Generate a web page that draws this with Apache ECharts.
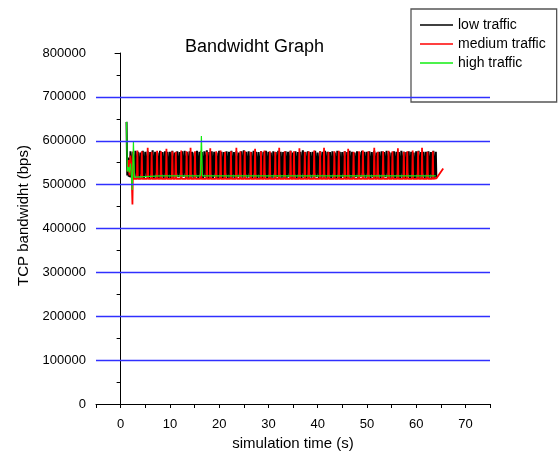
<!DOCTYPE html>
<html>
<head>
<meta charset="utf-8">
<script src="https://cdn.jsdelivr.net/npm/echarts@6/dist/echarts.min.js"></script>
<style>
html,body{margin:0;padding:0;background:#fff;}
#chart{width:559px;height:457px;}
</style>
</head>
<body>
<div id="chart"></div>
<script>
var chartTitle = 'Bandwidht Graph';
var xAxisName = 'simulation time (s)';
var yAxisName = 'TCP bandwidht (bps)';
var seriesNames = ['low traffic', 'medium traffic', 'high traffic'];
var gridLineValues = [100000, 200000, 300000, 400000, 500000, 600000, 700000];

var lowTraffic = [
[1.2,643000],[1.35,521000],[1.5,562000],[1.65,518000],[1.8,560000],[1.9,517000],
[2,576000],[2.25,515000],[2.5,574000],[2.75,517000],[3,577000],[3.25,514000],[3.5,575000],[3.75,516000],
[4,573000],[4.25,516000],[4.5,577000],[4.75,515000],[5,575000],[5.25,518000],[5.5,576000],[5.75,514000],
[6,574000],[6.25,517000],[6.5,578000],[6.75,515000],[7,575000],[7.25,516000],[7.5,573000],[7.75,514000],
[8,577000],[8.25,516000],[8.5,574000],[8.75,515000],[9,576000],[9.25,517000],[9.5,575000],[9.75,513000],
[10,575000],[10.25,515000],[10.5,577000],[10.75,516000],[11,573000],[11.25,514000],[11.5,576000],[11.75,517000],
[12,574000],[12.25,515000],[12.5,576000],[12.75,518000],[13,577000],[13.25,515000],[13.5,574000],[13.75,516000],
[14,576000],[14.25,514000],[14.5,575000],[14.75,516000],[15,573000],[15.25,517000],[15.5,577000],[15.75,515000],
[16,575000],[16.25,516000],[16.5,574000],[16.75,514000],[17,576000],[17.25,517000],[17.5,578000],[17.75,515000],
[18,574000],[18.25,516000],[18.5,576000],[18.75,514000],[19,575000],[19.25,518000],[19.5,573000],[19.75,515000],
[20,577000],[20.25,516000],[20.5,575000],[20.75,514000],[21,574000],[21.25,517000],[21.5,576000],[21.75,515000],
[22,575000],[22.25,513000],[22.5,577000],[22.75,516000],[23,574000],[23.25,515000],[23.5,576000],[23.75,517000],
[24,573000],[24.25,515000],[24.5,576000],[24.75,516000],[25,578000],[25.25,514000],[25.5,575000],[25.75,516000],
[26,576000],[26.25,517000],[26.5,574000],[26.75,515000],[27,577000],[27.25,516000],[27.5,575000],[27.75,514000],
[28,574000],[28.25,516000],[28.5,576000],[28.75,515000],[29,575000],[29.25,518000],[29.5,577000],[29.75,515000],
[30,575000],[30.25,514000],[30.5,573000],[30.75,516000],[31,576000],[31.25,515000],[31.5,574000],[31.75,517000],
[32,577000],[32.25,515000],[32.5,575000],[32.75,516000],[33,574000],[33.25,514000],[33.5,576000],[33.75,516000],
[34,575000],[34.25,517000],[34.5,577000],[34.75,515000],[35,573000],[35.25,516000],[35.5,576000],[35.75,514000],
[36,574000],[36.25,516000],[36.5,575000],[36.75,515000],[37,578000],[37.25,517000],[37.5,574000],[37.75,515000],
[38,576000],[38.25,514000],[38.5,574000],[38.75,516000],[39,575000],[39.25,515000],[39.5,577000],[39.75,517000],
[40,573000],[40.25,515000],[40.5,576000],[40.75,516000],[41,575000],[41.25,514000],[41.5,577000],[41.75,516000],
[42,575000],[42.25,517000],[42.5,574000],[42.75,515000],[43,576000],[43.25,516000],[43.5,573000],[43.75,514000],
[44,577000],[44.25,516000],[44.5,575000],[44.75,515000],[45,574000],[45.25,517000],[45.5,576000],[45.75,515000],
[46,574000],[46.25,514000],[46.5,577000],[46.75,516000],[47,575000],[47.25,515000],[47.5,573000],[47.75,517000],
[48,576000],[48.25,515000],[48.5,574000],[48.75,518000],[49,577000],[49.25,515000],[49.5,575000],[49.75,516000],
[50,575000],[50.25,516000],[50.5,576000],[50.75,514000],[51,574000],[51.25,517000],[51.5,577000],[51.75,515000],
[52,573000],[52.25,516000],[52.5,575000],[52.75,515000],[53,576000],[53.25,514000],[53.5,574000],[53.75,517000],
[54,577000],[54.25,515000],[54.5,575000],[54.75,516000],[55,573000],[55.25,517000],[55.5,576000],[55.75,514000],
[56,575000],[56.25,516000],[56.5,574000],[56.75,515000],[57,577000],[57.25,516000],[57.5,575000],[57.75,513000],
[58,574000],[58.25,517000],[58.5,576000],[58.75,515000],[59,575000],[59.25,516000],[59.5,573000],[59.75,514000],
[60,576000],[60.25,515000],[60.5,577000],[60.75,516000],[61,574000],[61.25,517000],[61.5,575000],[61.75,515000],
[62,575000],[62.25,514000],[62.5,576000],[62.75,516000],[63,574000],[63.25,515000],[63.5,577000],[63.75,516000],
[64,575000],[64.1,516000]
];

var mediumTraffic = [
[1.4,530000],[1.6,556000],[1.8,521000],[2.0,566000],[2.2,540000],[2.4,455000],[2.55,576000],[2.7,513000],
[3.3,513000],[3.4,578000],[3.5,513000],[4.2,513000],[4.3,576000],[4.4,513000],
[5.4,513000],[5.5,584000],[5.6,513000],[6.2,513000],[6.3,575000],[6.4,513000],
[7.3,513000],[7.4,577000],[7.5,513000],[8.1,513000],[8.2,576000],[8.3,513000],
[9.2,513000],[9.3,582000],[9.4,513000],[10.4,513000],[10.5,576000],[10.6,513000],
[11.1,513000],[11.2,575000],[11.3,513000],[12.2,513000],[12.3,578000],[12.4,513000],
[13.3,513000],[13.4,576000],[13.5,513000],[14.1,513000],[14.2,584000],[14.3,513000],
[15.0,513000],[15.1,576000],[15.2,513000],[16.2,513000],[16.3,577000],[16.4,513000],
[17.4,513000],[17.5,575000],[17.6,513000],[18.1,513000],[18.2,583000],[18.3,513000],
[19.3,513000],[19.4,576000],[19.5,513000],[20.2,513000],[20.3,578000],[20.4,513000],
[21.1,513000],[21.2,575000],[21.3,513000],[22.3,513000],[22.4,576000],[22.5,513000],
[23.4,513000],[23.5,584000],[23.6,513000],[24.2,513000],[24.3,576000],[24.4,513000],
[25.1,513000],[25.2,577000],[25.3,513000],[26.3,513000],[26.4,575000],[26.5,513000],
[27.2,513000],[27.3,582000],[27.4,513000],[28.4,513000],[28.5,576000],[28.6,513000],
[29.1,513000],[29.2,578000],[29.3,513000],[30.2,513000],[30.3,576000],[30.4,513000],
[31.3,513000],[31.4,575000],[31.5,513000],[32.1,513000],[32.2,584000],[32.3,513000],
[33.2,513000],[33.3,576000],[33.4,513000],[34.4,513000],[34.5,577000],[34.6,513000],
[35.1,513000],[35.2,576000],[35.3,513000],[36.2,513000],[36.3,583000],[36.4,513000],
[37.3,513000],[37.4,575000],[37.5,513000],[38.1,513000],[38.2,576000],[38.3,513000],
[39.2,513000],[39.3,578000],[39.4,513000],[40.4,513000],[40.5,576000],[40.6,513000],
[41.2,513000],[41.3,584000],[41.4,513000],[42.1,513000],[42.2,575000],[42.3,513000],
[43.3,513000],[43.4,576000],[43.5,513000],[44.2,513000],[44.3,577000],[44.4,513000],
[45.4,513000],[45.5,576000],[45.6,513000],[46.1,513000],[46.2,582000],[46.3,513000],
[47.2,513000],[47.3,575000],[47.4,513000],[48.3,513000],[48.4,576000],[48.5,513000],
[49.1,513000],[49.2,578000],[49.3,513000],[50.2,513000],[50.3,576000],[50.4,513000],
[51.4,513000],[51.5,584000],[51.6,513000],[52.1,513000],[52.2,575000],[52.3,513000],
[53.2,513000],[53.3,576000],[53.4,513000],[54.3,513000],[54.4,577000],[54.5,513000],
[55.1,513000],[55.2,576000],[55.3,513000],[56.2,513000],[56.3,583000],[56.4,513000],
[57.4,513000],[57.5,575000],[57.6,513000],[58.1,513000],[58.2,576000],[58.3,513000],
[59.2,513000],[59.3,578000],[59.4,513000],[60.3,513000],[60.4,576000],[60.5,513000],
[61.1,513000],[61.2,584000],[61.3,513000],[62.2,513000],[62.3,575000],[62.4,513000],
[63.3,513000],[63.4,576000],[63.5,513000],[64.1,514000],[65.5,537000]
];

var highTraffic = [
[1.2,643000],[1.35,530000],[1.6,540000],[1.75,528000],[2.0,548000],[2.2,520000],
[2.35,488000],[2.6,597000],[2.8,517000],[3.2,520000],[8,520000],[16.2,520000],
[16.4,611000],[16.6,520000],[30,520000],[45,520000],[64,520000]
];

var FONT = 'Liberation Sans, Arial, sans-serif';
var chart = echarts.init(document.getElementById('chart'), null, {renderer: 'canvas'});

function lineSeries(name, data, color, width, extra) {
  var s = {
    name: name,
    type: 'line',
    data: data,
    symbol: 'none',
    showSymbol: false,
    smooth: false,
    animation: false,
    lineStyle: {color: color, width: width},
    itemStyle: {color: color},
    emphasis: {disabled: true}
  };
  if (extra) { for (var k in extra) s[k] = extra[k]; }
  return s;
}

var option = {
  animation: false,
  backgroundColor: '#ffffff',
  title: {
    text: chartTitle,
    left: 185,
    top: 38,
    padding: 0,
    textStyle: {fontFamily: FONT, fontSize: 18, fontWeight: 'normal', color: '#000'}
  },
  legend: {
    orient: 'vertical',
    left: 411,
    top: 9,
    padding: [9, 11, 32, 9],
    itemWidth: 33,
    itemHeight: 1.5,
    itemGap: 5,
    icon: 'rect',
    backgroundColor: '#ffffff',
    borderColor: '#555555',
    borderWidth: 1.3,
    borderRadius: 0,
    textStyle: {fontFamily: FONT, fontSize: 14, lineHeight: 14, color: '#000'},
    data: seriesNames
  },
  grid: {left: 96, right: 69, top: 53, bottom: 53, containLabel: false},
  xAxis: {
    type: 'value',
    min: -5,
    max: 75,
    interval: 5,
    name: xAxisName,
    nameLocation: 'middle',
    nameGap: 31,
    nameTextStyle: {fontFamily: FONT, fontSize: 15, color: '#000'},
    axisLine: {show: true, lineStyle: {color: '#000', width: 1}},
    axisTick: {show: true, length: 4, lineStyle: {color: '#000'}},
    axisLabel: {
      fontFamily: FONT, fontSize: 13, color: '#000', margin: 14,
      formatter: function (v) { return (v % 10 === 0) ? String(v) : ''; }
    },
    splitLine: {show: false}
  },
  yAxis: {
    type: 'value',
    min: 0,
    max: 800000,
    interval: 100000,
    name: yAxisName,
    nameLocation: 'middle',
    nameGap: 60,
    nameRotate: 90,
    nameTextStyle: {fontFamily: FONT, fontSize: 15, color: '#000', padding: [0, 0, 0, 26]},
    axisLine: {show: true, lineStyle: {color: '#000', width: 1}},
    axisTick: {show: true, length: 6, lineStyle: {color: '#000'}},
    minorTick: {show: true, splitNumber: 2, length: 4, lineStyle: {color: '#000'}},
    axisLabel: {
      fontFamily: FONT, fontSize: 13, color: '#000', margin: 10,
      formatter: function (v) { return String(v); }
    },
    splitLine: {show: false}
  },
  series: [
    lineSeries(seriesNames[0], lowTraffic, '#000000', 2, {
      markLine: {
        silent: true,
        symbol: ['none', 'none'],
        label: {show: false},
        animation: false,
        lineStyle: {color: '#3030ff', width: 1.3, type: 'solid'},
        emphasis: {disabled: true},
        data: gridLineValues.map(function (v) { return {yAxis: v}; })
      }
    }),
    lineSeries(seriesNames[1], mediumTraffic, '#ff0000', 1.8),
    lineSeries(seriesNames[2], highTraffic, '#11ee11', 1.2)
  ]
};
chart.setOption(option);
</script>
</body>
</html>
